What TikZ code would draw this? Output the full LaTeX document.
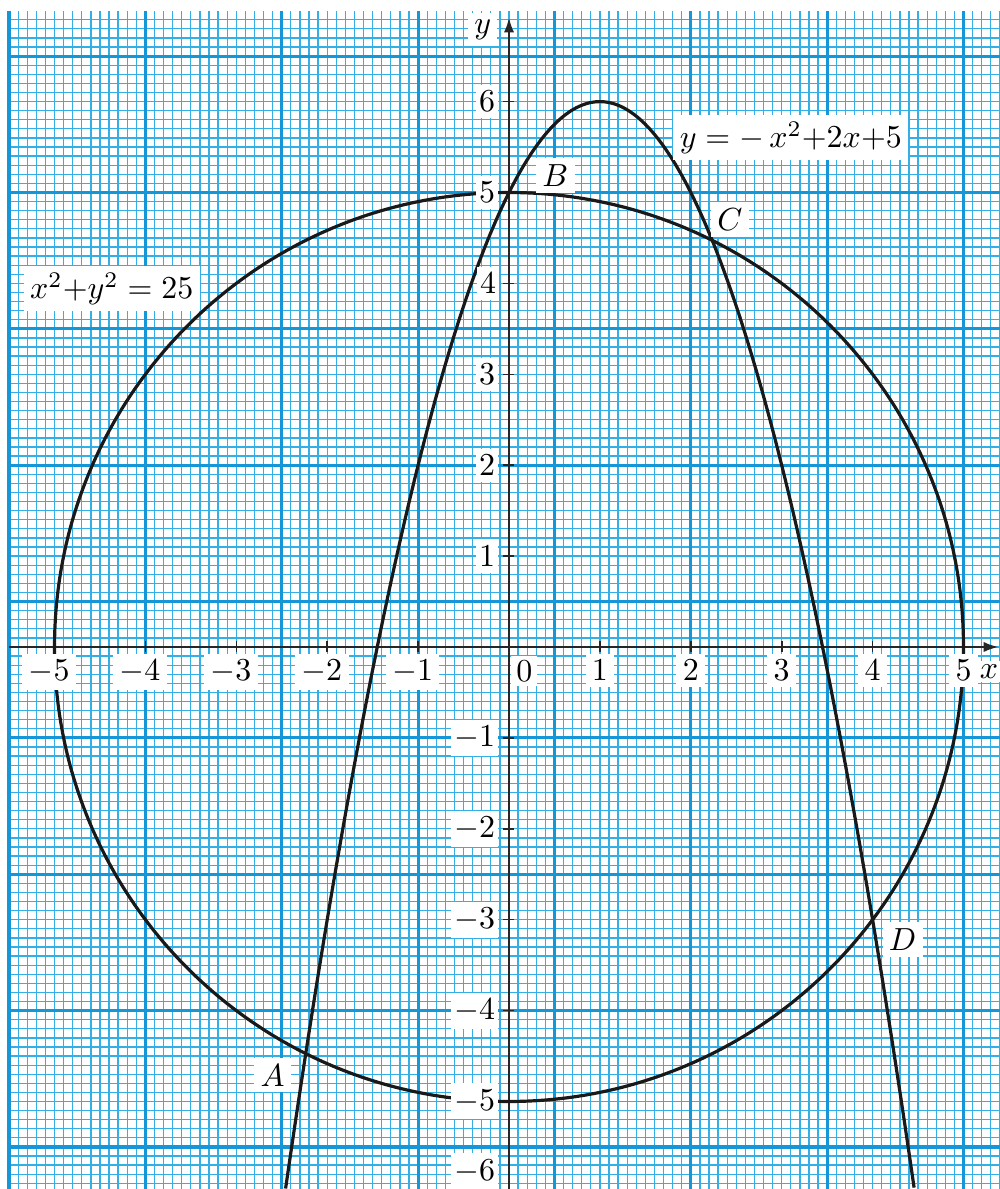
\documentclass[tikz,border=0pt]{standalone}
\usetikzlibrary{arrows.meta}
\definecolor{gridblue}{RGB}{52,175,230}
\definecolor{majorblue}{RGB}{20,150,215}
\tikzset{
  fine/.style={draw=gridblue, line width=0.4pt},
  major/.style={draw=majorblue, line width=1pt},
  axis/.style={draw=black!85, line width=0.5pt, -{Latex[length=4.5pt,width=3.2pt]}},
  curve/.style={draw=black!90, line width=1pt},
  lbl/.style={fill=white, inner sep=2pt},
  ylbl/.style={lbl, anchor=east, inner xsep=1pt},
}
\begin{document}
\begin{tikzpicture}
    \useasboundingbox[fill=white] (-5.6,-5.963) rectangle (5.4,7.118);

    % graph paper
    \draw[fine] (-5.5,-5.963) grid[step=0.1] (5.4,7.0);
    \foreach \x in {-5.5,-4,...,5} \draw[major] (\x,-5.963) -- (\x,7.0);
    \foreach \y in {-5.5,-4,...,6.5} \draw[major] (-5.5,\y) -- (5.4,\y);

    % axes
    \coordinate (xstart) at (-5.5,0);
    \coordinate (xend) at (5.38,0);
    \coordinate (ystart) at (0,-5.963);
    \coordinate (yend) at (0,6.92);
    \draw[axis] (xstart) -- (xend);
    \draw[axis] (ystart) -- (yend);
    \foreach \t in {-5,...,5} \draw[black!85, line width=0.5pt] (\t,-0.06) -- (\t,0.07);
    \foreach \t in {-5,...,6} \draw[black!85, line width=0.5pt] (-0.07,\t) -- (0.06,\t);

    % curves
    \draw[curve] (0,0) circle (5);
    \draw[curve] plot[domain=-2.458:4.458, samples=120, smooth] (\x,{-\x*\x+2*\x+5});

    \coordinate (A) at (-2.236,-4.472);
    \coordinate (B) at (0,5);
    \coordinate (C) at (2.236,4.472);
    \coordinate (D) at (4,-3);

    % x labels
    \node[lbl, anchor=north] (xm5) at (-5.06,-0.07) {$-5$};
    \node[lbl, anchor=north] (xm4) at (-4.06,-0.07) {$-4$};
    \node[lbl, anchor=north] (xm3) at (-3.06,-0.07) {$-3$};
    \node[lbl, anchor=north] (xm2) at (-2.06,-0.07) {$-2$};
    \node[lbl, anchor=north] (xm1) at (-1.06,-0.07) {$-1$};
    \node[lbl, anchor=north west, inner sep=1.5pt] (x0) at (0.02,-0.09) {$0$};
    \node[lbl, anchor=north] (x1) at (1,-0.07) {$1$};
    \node[lbl, anchor=north] (x2) at (2,-0.07) {$2$};
    \node[lbl, anchor=north] (x3) at (3,-0.07) {$3$};
    \node[lbl, anchor=north] (x4) at (4,-0.07) {$4$};
    \node[lbl, anchor=north] (x5) at (5,-0.07) {$5$};
    \node[lbl, inner sep=1pt] (xname) at (5.28,-0.27) {$x$};

    % y labels
    \node[ylbl] (y6) at (-0.11,6) {$6$};
    \node[ylbl] (y5) at (-0.11,5) {$5$};
    \node[ylbl] (y4) at (-0.10,4) {$4$};
    \node[ylbl] (y3) at (-0.11,3) {$3$};
    \node[ylbl] (y2) at (-0.11,2) {$2$};
    \node[ylbl] (y1) at (-0.11,1) {$1$};
    \node[ylbl] (ym1) at (-0.11,-1) {$-1$};
    \node[ylbl] (ym2) at (-0.11,-2) {$-2$};
    \node[ylbl] (ym3) at (-0.11,-3) {$-3$};
    \node[ylbl] (ym4) at (-0.11,-4) {$-4$};
    \node[ylbl] (ym5) at (-0.11,-5) {$-5$};
    \node[ylbl] (ym6) at (-0.11,-5.77) {$-6$};
    \node[lbl] (yname) at (-0.29,6.79) {$y$};

    % point and curve labels
    \node[lbl] (labA) at (-2.60,-4.71) {$A$};
    \node[lbl] (labB) at (0.51,5.19) {$B$};
    \node[lbl] (labC) at (2.43,4.70) {$C$};
    \node[lbl] (labD) at (4.33,-3.22) {$D$};
    \node[lbl] (circ) at (-4.37,3.94) {$x^2{+}y^2=25$};
    \node[lbl] (parab) at (3.10,5.60) {$y=-\,x^2{+}2x{+}5$};
\end{tikzpicture}
\end{document}
